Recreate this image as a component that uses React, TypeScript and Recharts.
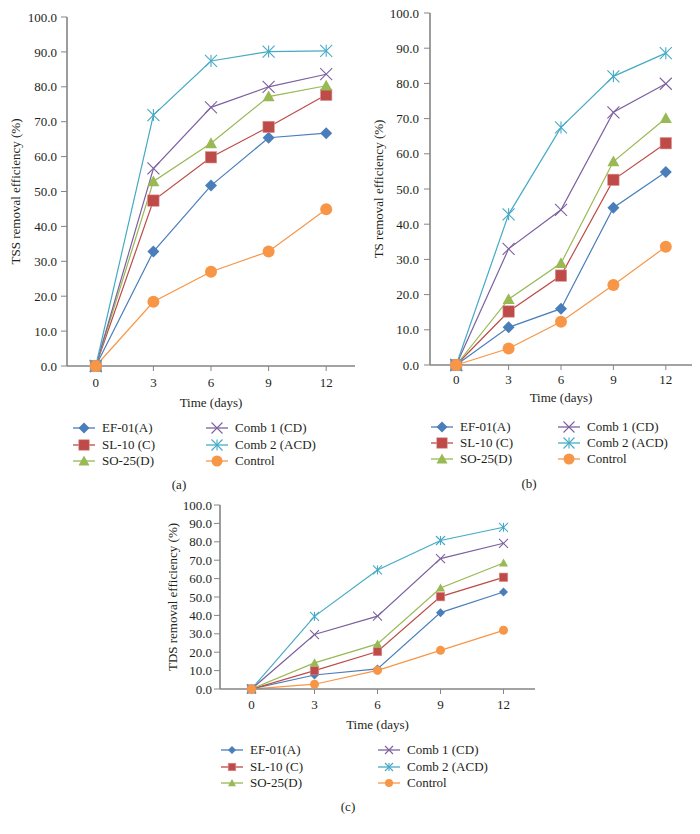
import React from 'react';
import { LineChart, Line, XAxis, YAxis, Legend } from 'recharts';

const days = ['0', '3', '6', '9', '12'];
const yTicks = [0, 10, 20, 30, 40, 50, 60, 70, 80, 90, 100];

const seriesNames = ['EF-01(A)', 'SL-10 (C)', 'SO-25(D)', 'Comb 1 (CD)', 'Comb 2 (ACD)', 'Control'];
const seriesColors = ['#4a7ebb', '#be4b48', '#98b954', '#7d60a0', '#46aac5', '#f79646'];
const seriesShapes = ['diamond', 'square', 'triangle', 'cross', 'star', 'circle'];

// (a) TSS removal
const tssEf01 = [0, 32.8, 51.7, 65.4, 66.7];
const tssSl10 = [0, 47.4, 59.8, 68.5, 77.7];
const tssSo25 = [0, 52.9, 63.8, 77.2, 80.3];
const tssComb1 = [0, 56.6, 74.1, 80.0, 83.6];
const tssComb2 = [0, 71.9, 87.4, 90.1, 90.3];
const tssControl = [0, 18.4, 27.0, 32.8, 44.9];

// (b) TS removal
const tsEf01 = [0, 10.7, 16.0, 44.7, 54.8];
const tsSl10 = [0, 15.2, 25.4, 52.6, 63.0];
const tsSo25 = [0, 18.7, 28.9, 57.8, 70.1];
const tsComb1 = [0, 33.0, 44.1, 71.8, 79.9];
const tsComb2 = [0, 42.8, 67.5, 82.0, 88.6];
const tsControl = [0, 4.7, 12.3, 22.7, 33.6];

// (c) TDS removal
const tdsEf01 = [0, 7.6, 10.9, 41.5, 52.7];
const tdsSl10 = [0, 10.0, 20.4, 50.2, 60.7];
const tdsSo25 = [0, 14.2, 24.5, 54.9, 68.5];
const tdsComb1 = [0, 29.6, 39.6, 70.9, 79.2];
const tdsComb2 = [0, 39.5, 64.7, 80.7, 87.9];
const tdsControl = [0, 2.6, 10.1, 21.0, 31.9];

const font = '"Liberation Serif", "Times New Roman", serif';
const textColor = '#231f20';
const axisColor = '#858585';

const buildRows = (series: number[][]) =>
  days.map((day, i) => {
    const row: Record<string, any> = { day };
    series.forEach((vals, s) => {
      row[`s${s}`] = vals[i];
    });
    return row;
  });

const MarkerShape = ({ shape, cx, cy, size, color }: any) => {
  const r = size / 2;
  switch (shape) {
    case 'diamond':
      return <polygon points={`${cx},${cy - r} ${cx + r},${cy} ${cx},${cy + r} ${cx - r},${cy}`} fill={color} />;
    case 'square':
      return <rect x={cx - r * 0.95} y={cy - r * 0.95} width={size * 0.95} height={size * 0.95} fill={color} stroke="#d99694" strokeWidth={0.6} />;
    case 'triangle':
      return <polygon points={`${cx},${cy - r} ${cx + r},${cy + r * 0.8} ${cx - r},${cy + r * 0.8}`} fill={color} />;
    case 'cross':
      return (
        <g stroke={color} strokeWidth={1.1}>
          <line x1={cx - r} y1={cy - r} x2={cx + r} y2={cy + r} />
          <line x1={cx - r} y1={cy + r} x2={cx + r} y2={cy - r} />
        </g>
      );
    case 'star':
      return (
        <g stroke={color} strokeWidth={1.1}>
          <line x1={cx - r} y1={cy - r} x2={cx + r} y2={cy + r} />
          <line x1={cx - r} y1={cy + r} x2={cx + r} y2={cy - r} />
          <line x1={cx} y1={cy - r} x2={cx} y2={cy + r} />
        </g>
      );
    default:
      return <circle cx={cx} cy={cy} r={r} fill={color} />;
  }
};

const renderDot = (shape: string, color: string, size: number) => (props: any) => {
  const { cx, cy, index } = props;
  if (cx == null || cy == null) return <g key={`d${index}`} />;
  return (
    <g key={`d${index}`}>
      <MarkerShape shape={shape} cx={cx} cy={cy} size={size} color={color} />
    </g>
  );
};

const LegendGrid = ({ payload, colGap, rowGap, markerSize }: any) => (
  <div style={{ position: 'relative', width: colGap + 130, height: rowGap * 3 }}>
    {(payload || []).map((entry: any, i: number) => {
      const idx = seriesNames.indexOf(entry.value);
      const col = idx < 3 ? 0 : 1;
      const row = idx % 3;
      return (
        <div
          key={entry.value}
          style={{
            position: 'absolute',
            left: col * colGap,
            top: row * rowGap,
            height: 16,
            display: 'flex',
            alignItems: 'center',
            whiteSpace: 'nowrap',
          }}
        >
          <svg width={22} height={16}>
            <line x1={0} y1={8} x2={22} y2={8} stroke={seriesColors[idx]} strokeWidth={1.3} />
            <MarkerShape shape={seriesShapes[idx]} cx={11} cy={8} size={markerSize} color={seriesColors[idx]} />
          </svg>
          <span style={{ marginLeft: 7, fontFamily: font, fontSize: 13, color: textColor, lineHeight: '16px' }}>
            {entry.value}
          </span>
        </div>
      );
    })}
  </div>
);

const Panel = ({ cfg, rows, yLabel }: any) => (
  <div style={{ position: 'absolute', left: cfg.left, top: cfg.top }}>
    <LineChart
      width={cfg.width}
      height={cfg.height}
      data={rows}
      margin={{ top: cfg.mt, right: cfg.mr, bottom: cfg.mb, left: 0 }}
    >
      <XAxis
        dataKey="day"
        padding={{ left: cfg.pad, right: cfg.pad }}
        height={45}
        interval={0}
        axisLine={{ stroke: axisColor, strokeWidth: 1.6 }}
        tickLine={{ stroke: axisColor }}
        tickSize={5}
        tickMargin={cfg.xtm}
        tick={{ fill: textColor, fontSize: 13, fontFamily: font }}
        label={{ value: 'Time (days)', position: 'insideBottom', offset: cfg.xlo, fill: textColor, fontSize: 13, fontFamily: font }}
      />
      <YAxis
        type="number"
        domain={[0, 100]}
        ticks={yTicks}
        interval={0}
        width={cfg.yw}
        tickFormatter={(v: number) => v.toFixed(1)}
        axisLine={{ stroke: axisColor, strokeWidth: 1.6 }}
        tickLine={{ stroke: axisColor }}
        tickSize={6}
        tickMargin={cfg.ytm}
        tick={{ fill: textColor, fontSize: 13, fontFamily: font }}
        label={{
          value: yLabel,
          angle: -90,
          position: 'insideLeft',
          offset: cfg.ylo,
          style: { textAnchor: 'middle' },
          fill: textColor,
          fontSize: 13,
          fontFamily: font,
        }}
      />
      <Legend
        layout="horizontal"
        verticalAlign="middle"
        align="center"
        wrapperStyle={{ left: cfg.lgLeft, top: cfg.lgTop, width: cfg.lgGap + 130, height: cfg.lgRow * 3 }}
        content={(props: any) => (
          <LegendGrid payload={props.payload} colGap={cfg.lgGap} rowGap={cfg.lgRow} markerSize={cfg.lgMarker} />
        )}
      />
      {seriesNames.map((name, i) => (
        <Line
          key={name}
          type="linear"
          dataKey={`s${i}`}
          name={name}
          stroke={seriesColors[i]}
          strokeWidth={1.2}
          dot={renderDot(seriesShapes[i], seriesColors[i], cfg.marker)}
          activeDot={false}
          isAnimationActive={false}
        />
      ))}
    </LineChart>
  </div>
);

const cfgA = {
  left: 0, top: 0, width: 360, height: 500, yw: 67, mt: 17, mr: 5, mb: 89, pad: 28.8,
  xtm: 7, ytm: 4, xlo: 4, ylo: 15, marker: 12,
  lgLeft: 73, lgTop: 420, lgGap: 133, lgRow: 16.5, lgMarker: 11,
};
const cfgB = {
  left: 350, top: 0, width: 350, height: 500, yw: 80, mt: 13, mr: 8, mb: 90, pad: 26.2,
  xtm: 5, ytm: 5, xlo: 8, ylo: 28, marker: 12,
  lgLeft: 81, lgTop: 419, lgGap: 127, lgRow: 16, lgMarker: 11,
};
const cfgC = {
  left: 140, top: 480, width: 400, height: 354, yw: 80, mt: 25, mr: 5, mb: 100, pad: 31.5,
  xtm: 6, ytm: 2, xlo: 5, ylo: 32, marker: 9,
  lgLeft: 81, lgTop: 262, lgGap: 157, lgRow: 16.5, lgMarker: 8,
};

const Caption = ({ text, x, y }: any) => (
  <div
    style={{
      position: 'absolute',
      left: x - 20,
      top: y - 9,
      width: 40,
      textAlign: 'center',
      fontFamily: font,
      fontSize: 13,
      lineHeight: '18px',
      color: textColor,
    }}
  >
    {text}
  </div>
);

export default function App() {
  const rowsA = buildRows([tssEf01, tssSl10, tssSo25, tssComb1, tssComb2, tssControl]);
  const rowsB = buildRows([tsEf01, tsSl10, tsSo25, tsComb1, tsComb2, tsControl]);
  const rowsC = buildRows([tdsEf01, tdsSl10, tdsSo25, tdsComb1, tdsComb2, tdsControl]);

  return (
    <div style={{ position: 'absolute', left: 0, top: 0, width: 700, height: 834, background: '#fff', overflow: 'hidden' }}>
      <Panel cfg={cfgA} rows={rowsA} yLabel="TSS removal efficiency (%)" />
      <Panel cfg={cfgB} rows={rowsB} yLabel="TS removal efficiency (%)" />
      <Panel cfg={cfgC} rows={rowsC} yLabel="TDS removal efficiency (%)" />
      <Caption text="(a)" x={179} y={485} />
      <Caption text="(b)" x={529} y={484} />
      <Caption text="(c)" x={348} y={807} />
    </div>
  );
}
